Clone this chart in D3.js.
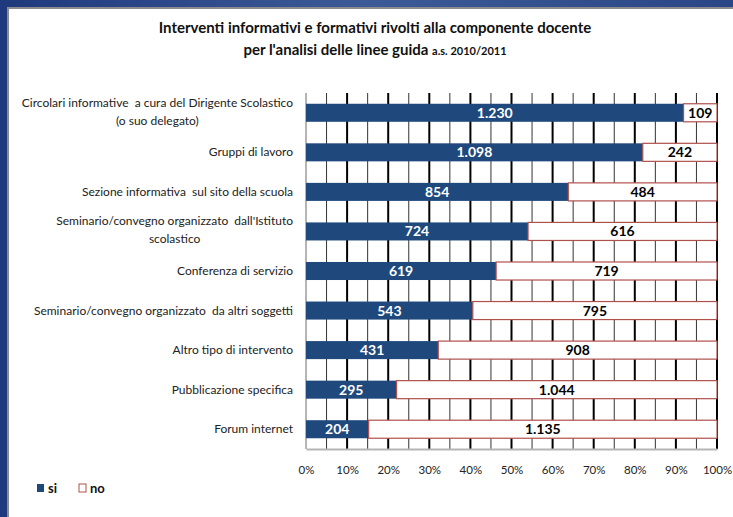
<!DOCTYPE html>
<meta charset="utf-8">
<style>
body { margin: 0; background: #fff; }
text { font-family: Lato, "Open Sans", sans-serif; }
</style>
<body>
<div id="chart"></div>
<script src="https://d3js.org/d3.v7.min.js"></script>
<script>
// categorie (dall'alto in basso), "|" = a capo
var categories = [
  "Circolari informative  a cura del Dirigente Scolastico|(o suo delegato)",
  "Gruppi di lavoro",
  "Sezione informativa  sul sito della scuola",
  "Seminario/convegno organizzato  dall'Istituto|scolastico",
  "Conferenza di servizio",
  "Seminario/convegno organizzato  da altri soggetti",
  "Altro tipo di intervento",
  "Pubblicazione specifica",
  "Forum internet"
];
var si = [1230, 1098, 854, 724, 619, 543, 431, 295, 204];
var no = [109, 242, 484, 616, 719, 795, 908, 1044, 1135];
var tickValues = [0, 0.1, 0.2, 0.3, 0.4, 0.5, 0.6, 0.7, 0.8, 0.9, 1];
var seriesNames = ["si", "no"];

var width = 733, height = 517;
var fmt = d3.formatLocale({decimal: ",", thousands: ".", grouping: [3], currency: ["€", ""]}).format(",d");

var svg = d3.select("#chart").append("svg").attr("width", width).attr("height", height);

// cornice blu stile diapositiva
var grad = svg.append("defs").append("linearGradient").attr("id", "bg")
  .attr("x1", "0").attr("y1", "0").attr("x2", "1").attr("y2", "0");
grad.append("stop").attr("offset", "0").attr("stop-color", "#1f3a7c");
grad.append("stop").attr("offset", "0.5").attr("stop-color", "#3d5a98");
grad.append("stop").attr("offset", "1").attr("stop-color", "#2a4686");
svg.append("rect").attr("width", width).attr("height", height).attr("fill", "url(#bg)");
svg.append("rect").attr("x", 8).attr("y", 8).attr("width", width).attr("height", height)
  .attr("fill", "#fff").attr("stroke", "#8c8c8c").attr("stroke-width", 2);

// titolo
var title = svg.append("text").attr("x", 375).attr("text-anchor", "middle")
  .attr("font-weight", "bold").attr("fill", "#111");
title.append("tspan").attr("x", 375).attr("y", 33).attr("font-size", "15px")
  .text("Interventi informativi e formativi rivolti alla componente docente");
title.append("tspan").attr("x", 375).attr("y", 55).attr("font-size", "15px")
  .text("per l'analisi delle linee guida ");
title.append("tspan").attr("font-size", "11px").text("a.s. 2010/2011");

var data = categories.map(function(c, i) {
  return {name: c, si: si[i], no: no[i], tot: si[i] + no[i]};
});

var x = d3.scaleLinear().domain([0, 1]).range([306, 717]);
var y = d3.scaleBand().domain(categories).range([93, 449])
  .paddingInner(0.544).paddingOuter(0.272);

// griglia verticale ogni 5%
var grid = d3.range(0, 21).map(function(i) { return i / 20; });
svg.append("g").selectAll("line").data(grid).enter().append("line")
  .attr("x1", function(d) { return x(d); }).attr("x2", function(d) { return x(d); })
  .attr("y1", 93).attr("y2", 449)
  .attr("stroke", function(d, i) { return i === 0 ? "#b5b5b5" : (i % 2 === 0 ? "#000" : "#333"); })
  .attr("stroke-width", function(d, i) { return i === 0 ? 2 : (i % 2 === 0 ? 2 : 1); });

// asse x
var xAxis = svg.append("g").attr("transform", "translate(0,449)")
  .call(d3.axisBottom(x).tickValues(tickValues).tickFormat(d3.format(".0%")).tickSize(0).tickPadding(17));
xAxis.select(".domain").attr("stroke", "#b5b5b5").attr("stroke-width", 2);
xAxis.selectAll("text").attr("font-size", "11.5px").attr("fill", "#222")
  .style("font-family", "Lato, sans-serif");

// barre "si"
svg.append("g").selectAll("rect").data(data).enter().append("rect")
  .attr("x", x(0))
  .attr("y", function(d) { return y(d.name); })
  .attr("width", function(d) { return x(d.si / d.tot) - x(0); })
  .attr("height", y.bandwidth())
  .attr("fill", "#1f497d");

// barre "no"
svg.append("g").selectAll("rect").data(data).enter().append("rect")
  .attr("x", function(d) { return x(d.si / d.tot); })
  .attr("y", function(d) { return y(d.name); })
  .attr("width", function(d) { return x(1) - x(d.si / d.tot); })
  .attr("height", y.bandwidth())
  .attr("fill", "#fff").attr("stroke", "#b0504d").attr("stroke-width", 1.2);

// etichette valori
svg.append("g").selectAll("text").data(data).enter().append("text")
  .attr("x", function(d) { return (x(0) + x(d.si / d.tot)) / 2; })
  .attr("y", function(d) { return y(d.name) + y.bandwidth() / 2 + 5; })
  .attr("text-anchor", "middle").attr("font-size", "14px").attr("font-weight", "bold")
  .attr("fill", "#fff").text(function(d) { return fmt(d.si); });
svg.append("g").selectAll("text").data(data).enter().append("text")
  .attr("x", function(d) { return (x(d.si / d.tot) + x(1)) / 2; })
  .attr("y", function(d) { return y(d.name) + y.bandwidth() / 2 + 5; })
  .attr("text-anchor", "middle").attr("font-size", "14px").attr("font-weight", "bold")
  .attr("fill", "#000").text(function(d) { return fmt(d.no); });

// etichette categorie
svg.append("g").selectAll("text").data(data).enter().append("text")
  .attr("text-anchor", "end").attr("font-size", "12px").attr("fill", "#222")
  .attr("xml:space", "preserve")
  .each(function(d) {
    var lines = d.name.split("|");
    var cy = y(d.name) + y.bandwidth() / 2;
    var el = d3.select(this);
    var first = null;
    lines.forEach(function(l, i) {
      var t = el.append("tspan")
        .attr("x", 293)
        .attr("y", lines.length === 1 ? cy + 4 : cy - 6 + i * 18)
        .text(l);
      if (i === 0) first = t;
      else {
        // seconda riga centrata sotto la prima
        var w0 = first.node().getComputedTextLength();
        t.attr("x", 293 - w0 / 2).attr("text-anchor", "middle");
      }
    });
  });

// legenda
var leg = svg.append("g").attr("transform", "translate(37,484)");
seriesNames.forEach(function(s, i) {
  var g = leg.append("g").attr("transform", "translate(" + (i * 42) + ",0)");
  g.append("rect").attr("width", 7).attr("height", 8)
    .attr("fill", i === 0 ? "#1f497d" : "#fff")
    .attr("stroke", i === 0 ? "none" : "#b0504d");
  g.append("text").attr("x", 11).attr("y", 9).attr("font-size", "13px")
    .attr("font-weight", "bold").attr("fill", "#111").text(s);
});
</script>
</body>
